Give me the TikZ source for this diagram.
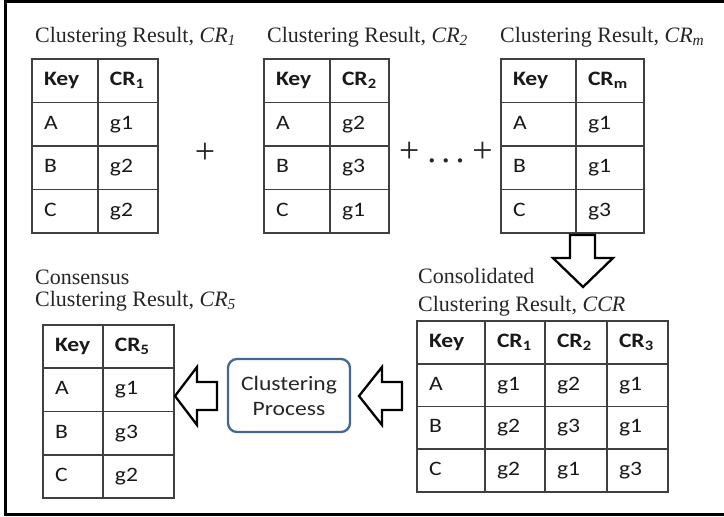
\documentclass[tikz,border=0pt]{standalone}
\usepackage{fontspec}
\setmainfont{Liberation Serif}
\newfontfamily\tabfont[FakeStretch=1.15]{Carlito}
\usetikzlibrary{matrix}

\definecolor{boxblue}{RGB}{70,104,142}

\tikzset{
  x=1pt, y=-1pt,
  frame/.style={line width=3pt, draw=black},
  title/.style={anchor=base west, inner sep=0pt, text=black!85,
    font=\fontsize{22}{22}\selectfont},
  plus/.style={inner sep=0pt, text=black!85, font=\fontsize{36}{36}\selectfont},
  tbl/.style={matrix of nodes, anchor=north west, inner sep=0pt,
    row sep=-1.6pt, column sep=-1.6pt,
    nodes={draw=black!75, line width=1.6pt, minimum height=#1,
      inner xsep=12pt, inner ysep=0pt, align=left, anchor=center,
      text height=14pt, text depth=4pt, text=black!90,
      font=\tabfont\fontsize{20.5}{20.5}\selectfont},
    row 1/.style={nodes={font=\tabfont\bfseries\fontsize{20.5}{20.5}\selectfont}}},
  blockarrow/.style={draw=black, line width=2.3pt, fill=white, line join=miter},
  procbox/.style={draw=boxblue, line width=2.3pt, rounded corners=9pt,
    minimum width=122pt, minimum height=73pt, align=center, text=black!85,
    font=\tabfont\fontsize{20.5}{25}\selectfont},
}

\newcommand{\crsub}[1]{\textit{CR}\textsubscript{\textit{#1}}}
\newcommand{\hsub}[1]{CR\textsubscript{#1}}

\begin{document}
\begin{tikzpicture}
  \useasboundingbox (0,0) rectangle (724,517);
  \fill[white] (0,0) rectangle (724,517);

  % outer frame (right side runs off the page)
  \draw[frame] (740,1.5) -- (5,1.5) -- (5,514) -- (740,514);

  % input clustering results
  \node[title] (t1) at (35,42) {Clustering Result, \crsub{1}};
  \node[title] (t2) at (267,42) {Clustering Result, \crsub{2}};
  \node[title] (t3) at (500,42) {Clustering Result, \crsub{m}};

  \matrix[tbl=43.5pt, column 1/.style={nodes={text width=42pt}},
          column 2/.style={nodes={text width=36pt}}] (cr1) at (31,58) {
    Key & \hsub{1} \\
    A & g1 \\
    B & g2 \\
    C & g2 \\
  };
  \matrix[tbl=43.5pt, column 1/.style={nodes={text width=42pt}},
          column 2/.style={nodes={text width=35pt}}] (cr2) at (263,58) {
    Key & \hsub{2} \\
    A & g2 \\
    B & g3 \\
    C & g1 \\
  };
  \matrix[tbl=43.5pt, column 1/.style={nodes={text width=51pt}},
          column 2/.style={nodes={text width=44pt}}] (crm) at (500,58) {
    Key & \hsub{m} \\
    A & g1 \\
    B & g1 \\
    C & g3 \\
  };

  \node[plus] (p1) at (205,153) {+};
  \node[plus] (p2) at (446,153) {+\kern8pt.\kern5pt.\kern5pt.\kern8pt+};

  % consolidated result
  \node[title] (c1) at (418,283) {Consolidated};
  \node[title] (c2) at (418,311) {Clustering Result, \textit{CCR}};
  \matrix[tbl=42.75pt, column 1/.style={nodes={text width=44pt}},
          column 2/.style={nodes={text width=36pt}},
          column 3/.style={nodes={text width=38pt}},
          column 4/.style={nodes={text width=37pt}}] (ccr) at (416,320) {
    Key & \hsub{1} & \hsub{2} & \hsub{3} \\
    A & g1 & g2 & g1 \\
    B & g2 & g3 & g1 \\
    C & g2 & g1 & g3 \\
  };

  % consensus result
  \node[title] (s1) at (35,284) {Consensus};
  \node[title] (s2) at (35,306) {Clustering Result, \crsub{5}};
  \matrix[tbl=43.25pt, column 1/.style={nodes={text width=36pt}},
          column 2/.style={nodes={text width=47pt}}] (crs) at (42,324) {
    Key & \hsub{5} \\
    A & g1 \\
    B & g3 \\
    C & g2 \\
  };

  % clustering step
  \node[procbox] (proc) at (289,395.5) {Clustering\\Process};

  % hollow block arrows
  \draw[blockarrow] (570,235) -- (595,235) -- (595,258) -- (613,258)
    -- (583,287) -- (553,258) -- (570,258) -- cycle;
  \draw[blockarrow] (402,382) -- (382,382) -- (382,367) -- (359,396)
    -- (382,425) -- (382,410) -- (402,410) -- cycle;
  \draw[blockarrow] (217,382) -- (197,382) -- (197,367) -- (175,396)
    -- (197,425) -- (197,410) -- (217,410) -- cycle;
\end{tikzpicture}
\end{document}
